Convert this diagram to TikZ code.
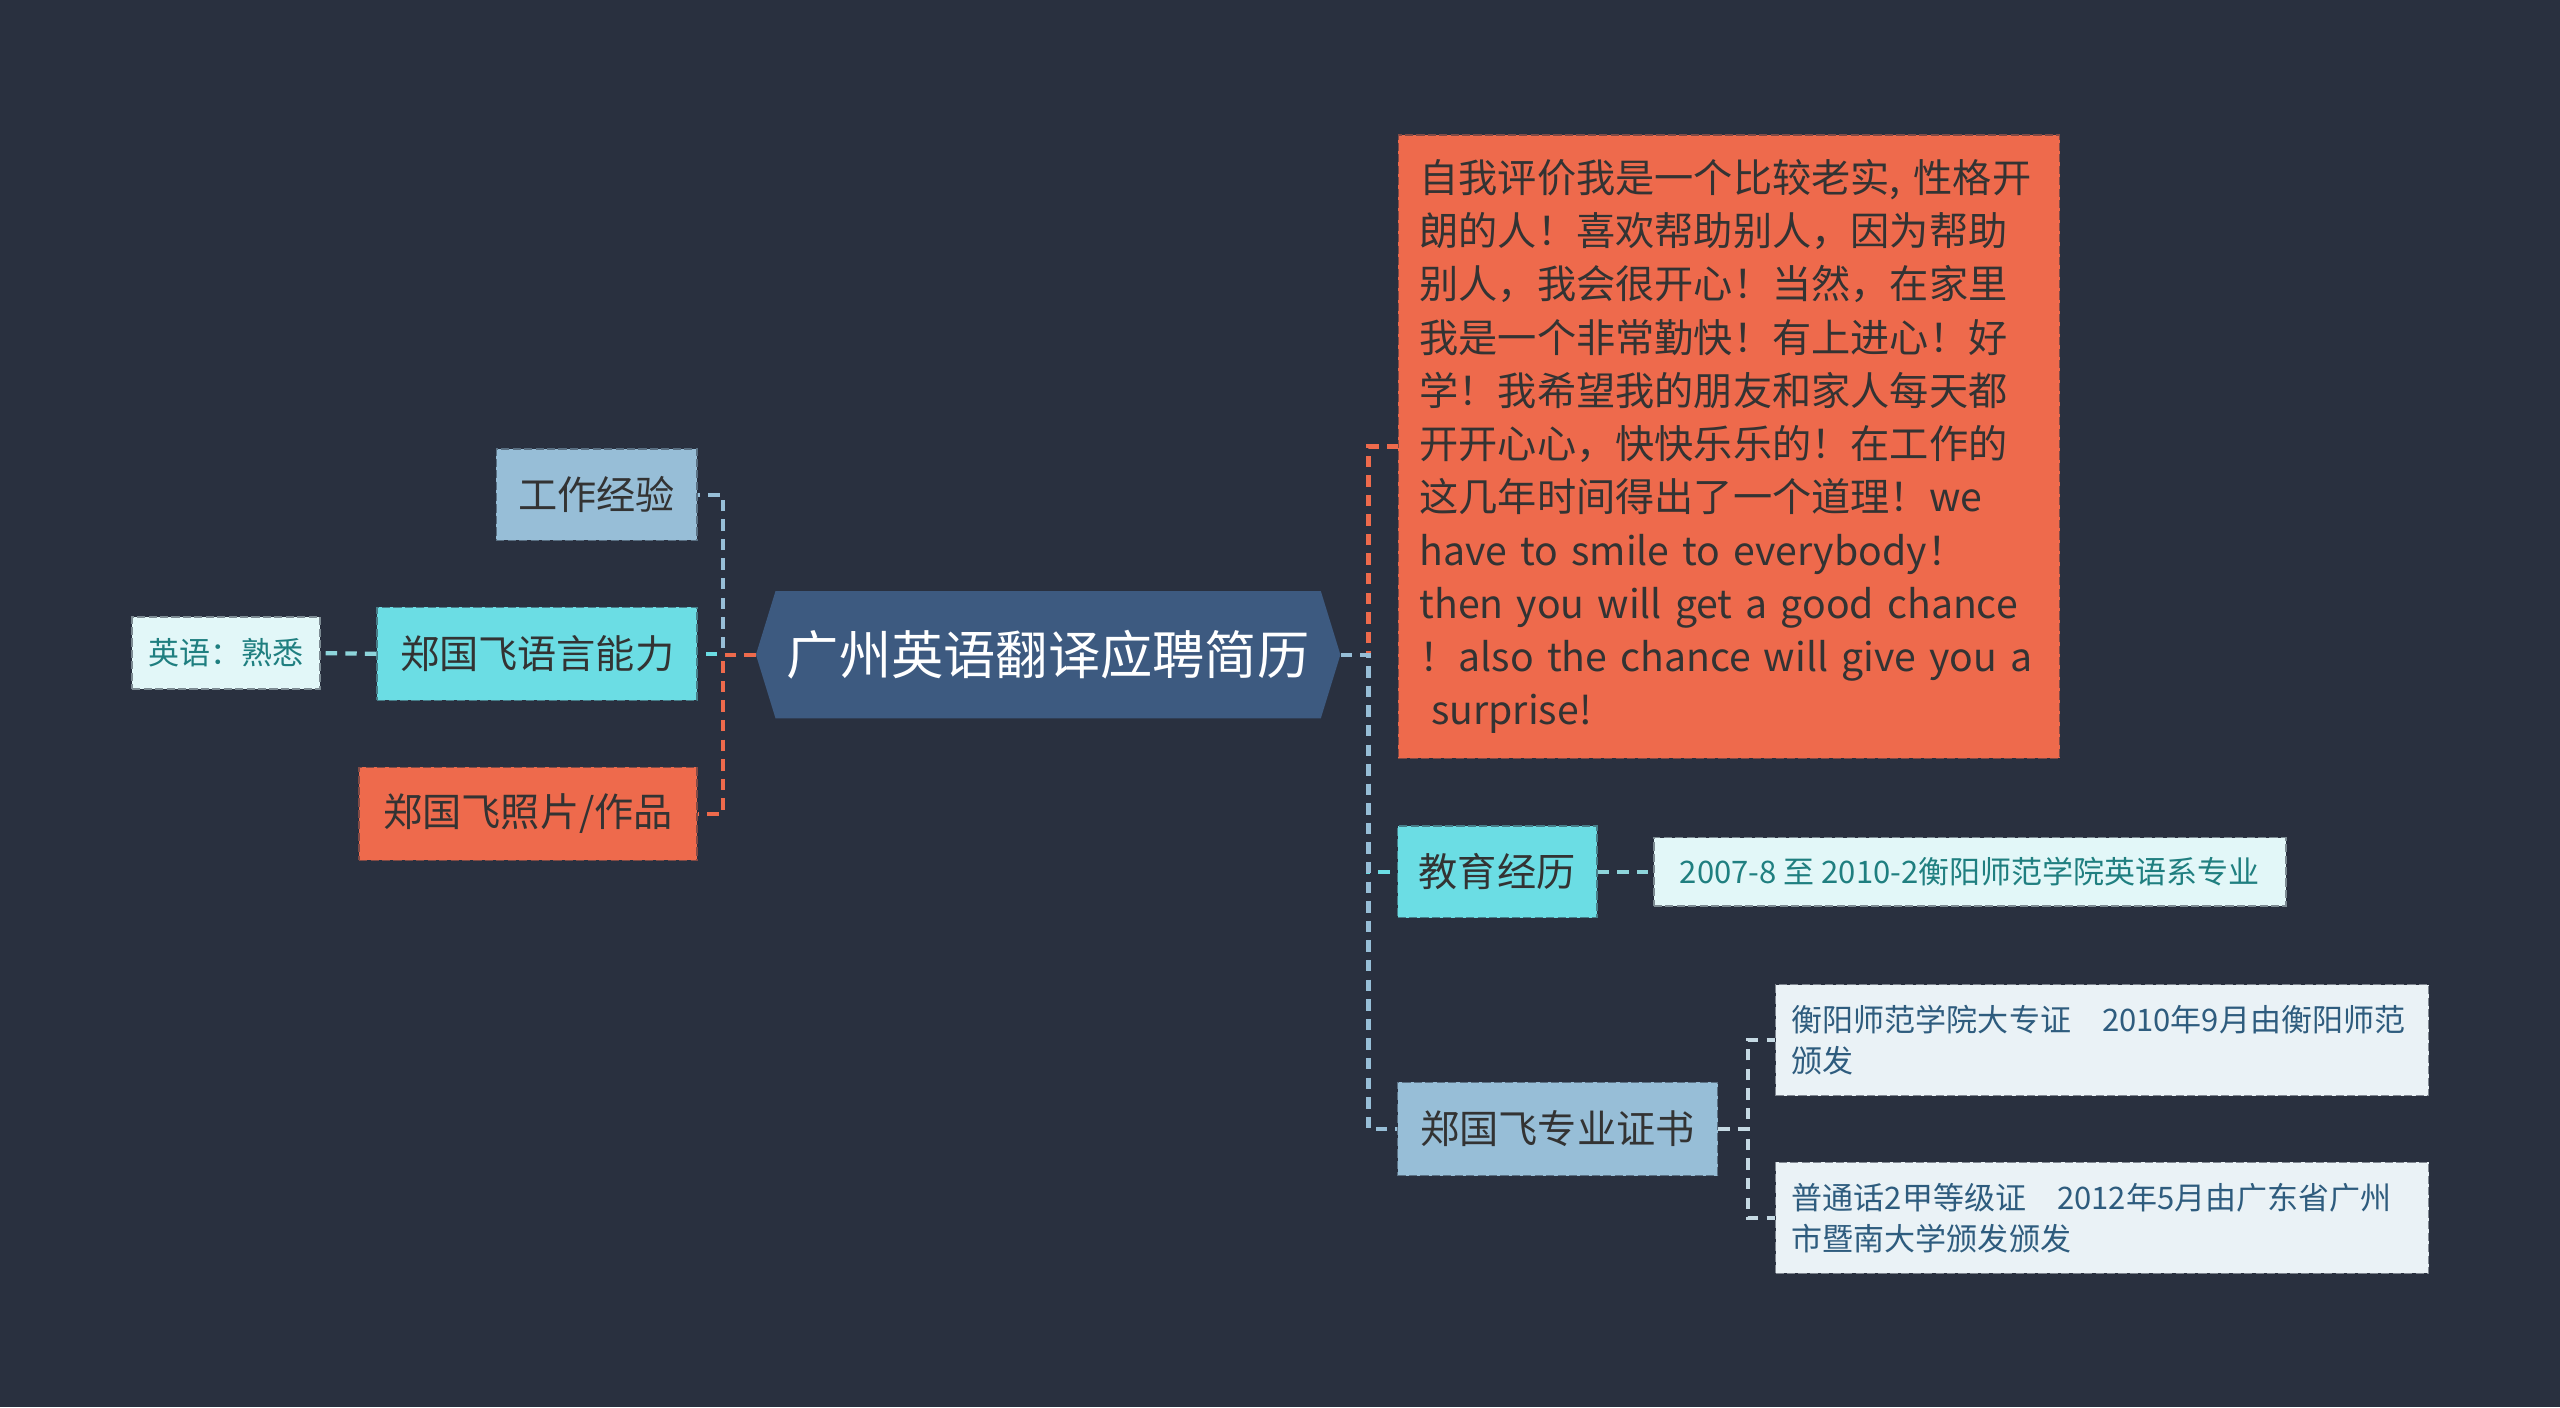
\documentclass[tikz,border=0pt]{standalone}
\usepackage{fontspec}
\setmainfont{Noto Sans CJK SC}
\usetikzlibrary{calc}
\definecolor{bg}{HTML}{29303F}
\definecolor{hexfill}{HTML}{3D5A80}
\definecolor{corange}{HTML}{EE6A4C}
\definecolor{ccyan}{HTML}{6BDDE4}
\definecolor{cblue}{HTML}{97BED7}
\definecolor{clcyan}{HTML}{E2F7F8}
\definecolor{clblue}{HTML}{EAF2F6}
\definecolor{txt}{HTML}{333333}
\definecolor{tteal}{HTML}{1F7F80}
\definecolor{tblue}{HTML}{2E5C7E}
\definecolor{lcert}{HTML}{C5D9E3}
\definecolor{lcyan}{HTML}{8ED5DB}
\tikzset{
  basebox/.style={rectangle, inner sep=0pt, dash pattern=on 5pt off 2pt, line width=1pt, text=txt, align=center},
  orangebox/.style={basebox, fill=corange, draw=corange!45!bg},
  cyanbox/.style={basebox, fill=ccyan, draw=ccyan!45!bg},
  bluebox/.style={basebox, fill=cblue, draw=cblue!45!bg},
  lcyanbox/.style={basebox, fill=clcyan, draw=clcyan!45!bg, text=tteal},
  lbluebox/.style={basebox, fill=clblue, draw=clblue!45!bg, text=tblue},
  big/.style={font=\fontsize{24}{32.6}\selectfont},
  small/.style={font=\fontsize{19}{25}\selectfont},
  conn/.style={draw=#1, line width=2.6pt, dash pattern=on 7pt off 5pt},
}
\begin{document}
\begin{tikzpicture}[x=1pt,y=-1pt]
\useasboundingbox (0,0) rectangle (1568,862);
\fill[bg] (0,0) rectangle (1568,862);

% central hexagon
\coordinate (c) at (642,401);
\fill[hexfill] ($(c)+(-179,0)$) -- ($(c)+(-167,-39)$) -- ($(c)+(167,-39)$) -- ($(c)+(179,0)$) -- ($(c)+(167,39)$) -- ($(c)+(-167,39)$) -- cycle;
\node[minimum width=358, minimum height=78, inner sep=0pt, text=white, font=\fontsize{32}{38}\selectfont] (hex) at (c) {广州英语翻译应聘简历};

% left side
\node[bluebox, big, minimum width=123, minimum height=56] (work) at (365.5,303) {工作经验};
\node[cyanbox, big, minimum width=196, minimum height=57] (lang) at (329,400.5) {郑国飞语言能力};
\node[lcyanbox, font=\fontsize{19}{24}\selectfont, minimum width=115, minimum height=44] (eng) at (138.5,400) {英语：熟悉};
\node[orangebox, big, minimum width=207, minimum height=57] (photo) at (323.5,498.5) {郑国飞照片/作品};

% right side
\node[orangebox, big, anchor=north west, minimum height=382, text width=379, inner xsep=13pt, inner ysep=0pt, align=left] (self) at (856,82) {%
自我评价我是一个比较老实, 性格开\\
朗的人！喜欢帮助别人，因为帮助\\
别人，我会很开心！当然，在家里\\
我是一个非常勤快！有上进心！好\\
学！我希望我的朋友和家人每天都\\
开开心心，快快乐乐的！在工作的\\
这几年时间得出了一个道理！we\\
have to smile to everybody！\\
then you will get a good chance\\
！also the chance will give you a\\
\hspace*{0.3em}surprise!};
\node[cyanbox, big, minimum width=122, minimum height=56] (edu) at (917,534) {教育经历};
\node[lcyanbox, font=\fontsize{19}{24}\selectfont, minimum width=387, minimum height=42] (edu1) at (1206.5,534) {2007-8 至 2010-2衡阳师范学院英语系专业};
\node[bluebox, big, minimum width=196, minimum height=57] (cert) at (954,691.5) {郑国飞专业证书};
\node[lbluebox, small, anchor=west, minimum height=68, text width=380, inner xsep=10pt, align=left] (cert1) at (1087,637) {衡阳师范学院大专证\hspace{1em}2010年9月由衡阳师范\\颁发};
\node[lbluebox, small, anchor=west, minimum height=68, text width=380, inner xsep=10pt, align=left] (cert2) at (1087,746) {普通话2甲等级证\hspace{1em}2012年5月由广东省广州\\市暨南大学颁发颁发};

% connectors left
\draw[conn=cblue] (hex.west) -- ++(-20,0) |- (work.east);
\draw[conn=ccyan] (hex.west) -- ++(-20,0) |- (lang.east);
\draw[conn=corange] (hex.west) -- ++(-20,0) |- (photo.east);
\draw[conn=lcyan] (lang.west) -- (eng.east);

% connectors right
\draw[conn=ccyan] (hex.east) -- ++(17,0) |- (edu.west);
\draw[conn=corange] (hex.east) -- ++(17,0) |- (self.west);
\draw[conn=cblue] (hex.east) -- ++(17,0) |- (cert.west);
\draw[conn=lcyan] (edu.east) -- (edu1.west);
\draw[conn=lcert] (cert.east) -- ++(18,0) |- (cert1.west);
\draw[conn=lcert] (cert.east) -- ++(18,0) |- (cert2.west);
\end{tikzpicture}
\end{document}
